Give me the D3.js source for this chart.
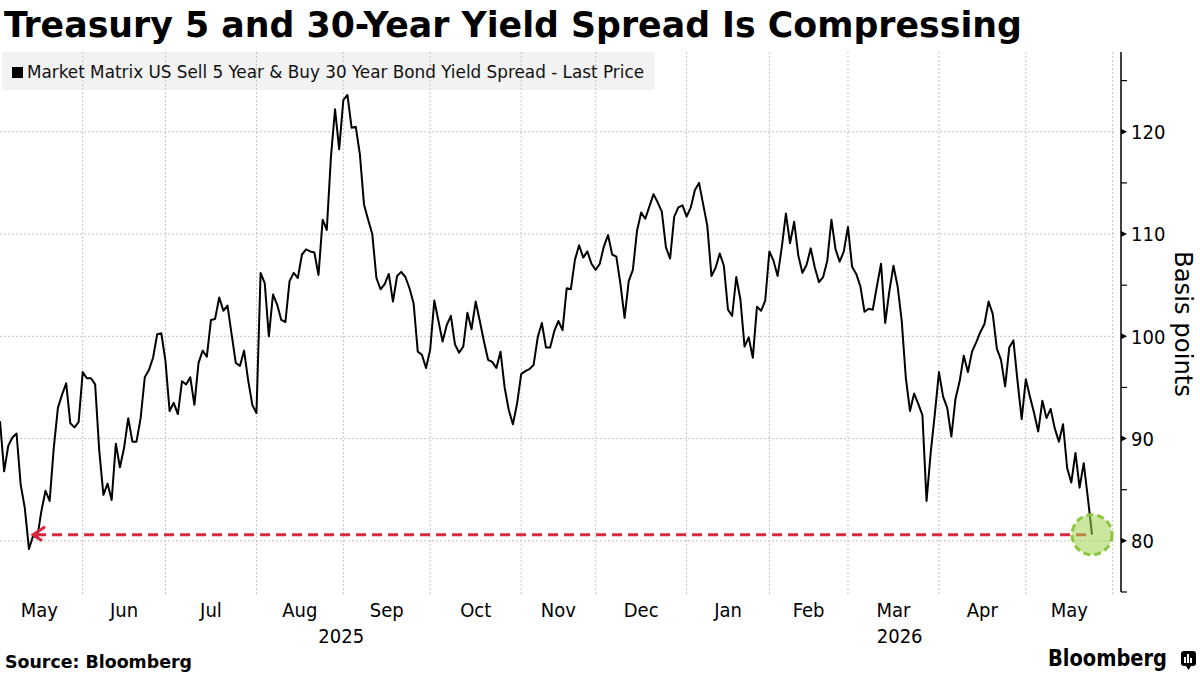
<!DOCTYPE html>
<html>
<head>
    <meta charset="utf-8">
    <title>Treasury 5 and 30-Year Yield Spread</title>
    <script src="https://d3js.org/d3.v7.min.js"></script>
    <style>
        body { margin: 0; background: #fff; }
        text { font-family: "DejaVu Sans Condensed", "DejaVu Sans", sans-serif; font-stretch: condensed; }
    </style>
</head>

<body>
<div id="chart"></div>
<script type="text/javascript">

    // spread (basis points), one value per trading day, May 2025 -> May 2026
    let spread = [
        91.7, 86.8, 89.3, 90.1, 90.5, 85.5, 83.2, 79.2, 80.5, 80.3, 82.9, 84.9, 83.9, 89.1, 93.0, 94.3,
        95.4, 91.5, 91.1, 91.6, 96.5, 95.9, 95.9, 95.3, 88.8, 84.5, 85.6, 84.0, 89.5, 87.2, 89.1, 92.0,
        89.7, 89.7, 92.0, 96.0, 96.7, 97.9, 100.2, 100.3, 97.6, 92.7, 93.5, 92.4, 95.6, 95.3, 96.0,
        93.3, 97.4, 98.6, 98.0, 101.6, 101.7, 103.8, 102.5, 103.0, 100.2, 97.4, 97.1, 98.6, 95.7, 93.3,
        92.5, 106.2, 105.2, 100.0, 104.1, 103.1, 101.6, 101.4, 105.4, 106.2, 105.7, 108.0, 108.5, 108.3,
        108.2, 106.0, 111.4, 110.4, 117.5, 122.2, 118.3, 123.1, 123.6, 120.4, 120.5, 117.8, 112.9, 111.4, 110.0,
        105.7, 104.6, 105.1, 106.1, 103.4, 105.9, 106.3, 105.8, 104.7, 103.2, 98.5, 98.2, 96.9, 98.7,
        103.5, 101.5, 99.5, 101.1, 102.0, 99.2, 98.4, 99.0, 102.3, 100.7, 103.4, 101.5, 99.5, 97.7, 97.5,
        96.9, 98.5, 95.0, 92.8, 91.4, 93.4, 96.3, 96.6, 96.8, 97.2, 99.9, 101.3, 98.9, 98.9, 100.5, 101.5,
        100.6, 104.7, 104.6, 107.5, 108.9, 107.7, 108.3, 107.1, 106.5, 107.1, 108.8, 109.9, 108.0, 107.8,
        105.1, 101.8, 105.4, 106.5, 110.3, 112.1, 111.5, 112.7, 113.9, 113.1, 112.2, 108.7, 107.6, 111.7,
        112.6, 112.8, 111.7, 112.6, 114.3, 115.0, 112.9, 110.8, 105.9, 106.7, 108.1, 106.9, 102.6, 102.0, 105.8, 103.6, 99.0,
        99.9, 97.9, 102.9, 102.5, 103.5, 108.3, 107.4, 105.9, 108.7, 112.0, 109.1, 111.2, 107.9, 106.2,
        107.0, 108.6, 106.7, 105.3, 105.8, 107.4, 111.4, 108.5, 107.3, 108.3, 110.7, 106.8, 106.1, 104.9,
        102.4, 102.7, 102.6, 104.9, 107.1, 101.3, 104.4, 106.9, 104.9, 101.5, 95.9, 92.7, 94.4, 93.4, 92.3, 83.9, 88.6,
        92.4, 96.5, 94.1, 93.0, 90.2, 93.9, 95.6, 98.1, 96.5, 98.5, 99.4, 100.4, 101.2, 103.4, 102.2, 98.8,
        97.7, 95.1, 98.9, 99.6, 95.6, 91.9, 95.8, 94.1, 92.5, 90.7, 93.7, 92.0, 92.9, 91.0, 89.7, 91.4,
        87.1, 85.7, 88.6, 85.2, 87.6, 84.2, 80.6
    ];

    // month starts, as trading-day index in the series
    let monthStarts = [-1, 20, 40, 62, 83, 104, 126, 144, 166, 186, 205, 227, 248, 269];
    let monthLabels = ["May", "Jun", "Jul", "Aug", "Sep", "Oct", "Nov", "Dec", "Jan", "Feb", "Mar", "Apr", "May"];
    let monthYears  = [2025, 2025, 2025, 2025, 2025, 2025, 2025, 2025, 2026, 2026, 2026, 2026, 2026];

    let yMajor = [80, 90, 100, 110, 120];
    let yMinor = [75, 85, 95, 105, 115, 125];

    // the earlier low that the last print is compared against
    let refIndex = 8;

    let W = 1200, H = 675;

    let svg = d3.select("#chart")
        .append("svg")
            .attr("width", W)
            .attr("height", H);

    let xScale = d3.scaleLinear()
        .domain([0, spread.length - 1])
        .range([0, 1092]);

    let yScale = d3.scaleLinear()
        .domain([75, 127.8])
        .range([592, 52]);

    // Titulo
    svg.append("text")
        .attr("x", 4).attr("y", 37)
        .attr("font-size", "35px")
        .attr("font-weight", "bold")
        .attr("textLength", 1018)
        .attr("lengthAdjust", "spacingAndGlyphs")
        .text("Treasury 5 and 30-Year Yield Spread Is Compressing");

    // legend box (drawn under the grid)
    svg.append("rect")
        .attr("x", 2).attr("y", 52)
        .attr("width", 653).attr("height", 38)
        .attr("rx", 3)
        .attr("fill", "#f2f2f2");

    // grid
    let grid = svg.append("g")
        .attr("stroke", "#c4c4c4")
        .attr("stroke-width", 1)
        .attr("stroke-dasharray", "2,2");

    grid.selectAll(".hgrid")
        .data(yMajor)
        .enter()
        .append("line")
        .attr("x1", 0).attr("x2", 1114)
        .attr("y1", d => yScale(d)).attr("y2", d => yScale(d));

    grid.selectAll(".vgrid")
        .data(monthStarts.slice(1))
        .enter()
        .append("line")
        .attr("x1", d => xScale(d)).attr("x2", d => xScale(d))
        .attr("y1", 52).attr("y2", 596);

    // legenda
    svg.append("rect")
        .attr("x", 12).attr("y", 67)
        .attr("width", 11).attr("height", 11)
        .attr("fill", "#000");

    svg.append("text")
        .attr("x", 27).attr("y", 78)
        .attr("font-size", "17px")
        .attr("fill", "#111")
        .attr("textLength", 617)
        .attr("lengthAdjust", "spacingAndGlyphs")
        .text("Market Matrix US Sell 5 Year & Buy 30 Year Bond Yield Spread - Last Price");

    // y axis on the right
    let axisX = 1121;
    let yAxis = svg.append("g");

    yAxis.append("line")
        .attr("x1", axisX).attr("x2", axisX)
        .attr("y1", yScale(127.8)).attr("y2", yScale(75))
        .attr("stroke", "#000").attr("stroke-width", 1.5);

    yAxis.selectAll(".minor")
        .data(yMinor)
        .enter()
        .append("line")
        .attr("x1", axisX).attr("x2", axisX + 6)
        .attr("y1", d => yScale(d)).attr("y2", d => yScale(d))
        .attr("stroke", "#000").attr("stroke-width", 1.2);

    yAxis.selectAll(".major")
        .data(yMajor)
        .enter()
        .append("path")
        .attr("d", d => "M" + axisX + "," + (yScale(d) - 3) + "L" + (axisX + 6) + "," + yScale(d) + "L" + axisX + "," + (yScale(d) + 3) + "Z")
        .attr("fill", "#000");

    yAxis.selectAll(".ylab")
        .data(yMajor)
        .enter()
        .append("text")
        .attr("x", 1131)
        .attr("y", d => yScale(d))
        .attr("dy", "0.36em")
        .attr("font-size", "20px")
        .text(d => d);

    // Titulo eixo vertical
    svg.append("text")
        .attr("transform", "translate(1175,324) rotate(90)")
        .style("text-anchor", "middle")
        .attr("font-size", "25px")
        .attr("textLength", 146)
        .attr("lengthAdjust", "spacingAndGlyphs")
        .text("Basis points");

    // month labels, centred inside each month
    svg.selectAll(".mlab")
        .data(monthLabels)
        .enter()
        .append("text")
        .attr("x", (d, i) => xScale((monthStarts[i] + monthStarts[i + 1]) / 2))
        .attr("y", 617)
        .style("text-anchor", "middle")
        .attr("font-size", "20px")
        .text(d => d);

    // year labels, centred over the part of each year in view
    let years = Array.from(new Set(monthYears));
    years.forEach(function(yr) {
        let first = monthYears.indexOf(yr);
        let last = monthYears.lastIndexOf(yr);
        svg.append("text")
            .attr("x", xScale((monthStarts[first] + monthStarts[last + 1]) / 2))
            .attr("y", 643)
            .style("text-anchor", "middle")
            .attr("font-size", "20px")
            .text(yr);
    });

    // reference line: last value carried back to the earlier low
    let lastIndex = spread.length - 1;
    let lastValue = spread[lastIndex];
    let red = "#d8283e";

    // the series
    let line = d3.line()
        .x((d, i) => xScale(i))
        .y(d => yScale(d));

    svg.append("path")
        .datum(spread)
        .attr("d", line)
        .attr("fill", "none")
        .attr("stroke", "#000")
        .attr("stroke-width", 2)
        .attr("stroke-linejoin", "round");

    svg.append("line")
        .attr("x1", xScale(refIndex) + 3).attr("x2", xScale(lastIndex))
        .attr("y1", yScale(lastValue)).attr("y2", yScale(lastValue))
        .attr("stroke", red)
        .attr("stroke-width", 3)
        .attr("stroke-dasharray", "10,6");

    let ax = xScale(refIndex), ay = yScale(lastValue);
    svg.append("path")
        .attr("d", "M" + (ax + 12) + "," + (ay - 8) + "L" + ax + "," + ay + "L" + (ax + 9) + "," + (ay + 6))
        .attr("fill", "none")
        .attr("stroke", red)
        .attr("stroke-width", 3);

    // highlight on the last print
    svg.append("circle")
        .attr("cx", xScale(lastIndex))
        .attr("cy", yScale(lastValue))
        .attr("r", 20)
        .attr("fill", "rgba(160, 212, 80, 0.55)")
        .attr("stroke", "#8cc63f")
        .attr("stroke-width", 3)
        .attr("stroke-dasharray", "7,4");

    // Rodape
    svg.append("text")
        .attr("x", 5).attr("y", 668)
        .attr("font-size", "18px")
        .attr("font-weight", "bold")
        .attr("textLength", 187)
        .attr("lengthAdjust", "spacingAndGlyphs")
        .text("Source: Bloomberg");

    svg.append("text")
        .attr("x", 1048).attr("y", 666)
        .attr("font-size", "23px")
        .attr("font-weight", "bold")
        .attr("font-family", "'DejaVu Sans', sans-serif")
        .style("font-stretch", "normal")
        .attr("textLength", 119)
        .attr("lengthAdjust", "spacingAndGlyphs")
        .text("Bloomberg");

    // small logo mark
    let logo = svg.append("g").attr("transform", "translate(1181,651)");
    logo.append("rect")
        .attr("width", 15).attr("height", 15)
        .attr("rx", 3)
        .attr("fill", "#000");
    logo.append("path")
        .attr("d", "M5,15 L7.5,19 L10,15 Z")
        .attr("fill", "#000");
    [[3, 6], [6, 3], [9, 7]].forEach(function(b) {
        logo.append("rect")
            .attr("x", b[0]).attr("y", b[1])
            .attr("width", 2).attr("height", 12 - b[1])
            .attr("fill", "#fff");
    });

</script>
</body>
</html>
